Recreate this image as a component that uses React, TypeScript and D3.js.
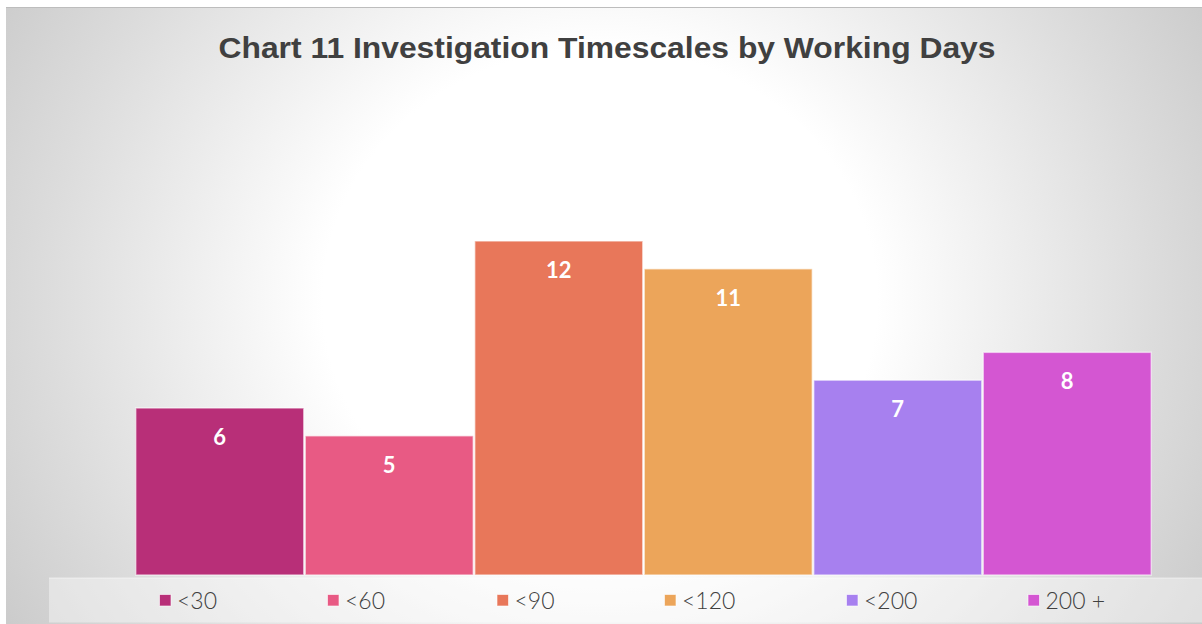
import React from "react";
import * as d3 from "d3";

const categories = ["<30", "<60", "<90", "<120", "<200", "200 +"];
const values = [6, 5, 12, 11, 7, 8];
const colors = ["#b82f78", "#e85a84", "#e8775a", "#eca55a", "#a780ef", "#d456d2"];
const title = "Chart 11 Investigation Timescales by Working Days";

const W = 1202;
const H = 624;
const legendX = [159, 327, 496.5, 664, 846, 1027.5];

export default function App() {
  const x = d3.scaleBand<string>().domain(categories).range([135, 1152]).padding(0);
  const y = d3.scaleLinear().domain([0, 12]).range([575, 241]);
  const labelFont = "Lato, 'Noto Sans', sans-serif";

  return (
    <svg
      width={W}
      height={H}
      style={{ position: "absolute", left: 0, top: 0, display: "block" }}
    >
      <defs>
        <radialGradient
          id="bg"
          cx="600"
          cy="300"
          r="700"
          gradientUnits="userSpaceOnUse"
          gradientTransform="translate(600 300) scale(1.1 1) translate(-600 -300)"
        >
          <stop offset="0" stopColor="#ffffff" />
          <stop offset="0.36" stopColor="#ffffff" />
          <stop offset="0.72" stopColor="#dcdcdc" />
          <stop offset="1" stopColor="#c2c2c2" />
        </radialGradient>
      </defs>
      <rect x={0} y={0} width={W} height={H} fill="#ffffff" />
      <rect x={6} y={7} width={W - 6} height={H - 7} fill="url(#bg)" />
      <line x1={6} x2={W} y1={7.5} y2={7.5} stroke="#bdbdbd" strokeWidth={1} />
      <text
        x={607}
        y={58}
        textAnchor="middle"
        fontFamily="Liberation Sans, Arial, sans-serif"
        fontWeight="bold"
        fontSize={29}
        textLength={777}
        lengthAdjust="spacingAndGlyphs"
        fill="#404040"
      >
        {title}
      </text>
      <rect x={49} y={578} width={W - 49} height={44.5} fill="#ffffff" fillOpacity={0.4} />
      <line x1={49} x2={W} y1={578} y2={578} stroke="#ffffff" strokeOpacity={0.5} />
      {categories.map((c, i) => (
        <g key={c}>
          <rect
            x={(x(c) as number) + 0.75}
            y={y(values[i])}
            width={x.bandwidth() - 1.5}
            height={y(0) - y(values[i])}
            fill={colors[i]}
            stroke="#ffffff"
            strokeOpacity={0.55}
            strokeWidth={1.5}
          />
          <text
            x={(x(c) as number) + x.bandwidth() / 2}
            y={y(values[i]) + 37}
            textAnchor="middle"
            fontFamily={labelFont}
            fontWeight="bold"
            fontSize={22}
            fill="#ffffff"
          >
            {values[i]}
          </text>
        </g>
      ))}
      {categories.map((c, i) => (
        <g key={"lg" + c}>
          <rect
            x={legendX[i] + 0.5}
            y={594.5}
            width={11.5}
            height={11.5}
            fill={colors[i]}
            stroke="#ffffff"
            strokeOpacity={0.6}
            strokeWidth={1}
          />
          <text
            x={legendX[i] + 18}
            y={608.5}
            fontFamily={labelFont}
            fontWeight={300}
            fontSize={23}
            fill="#404040"
          >
            {c}
          </text>
        </g>
      ))}
    </svg>
  );
}
